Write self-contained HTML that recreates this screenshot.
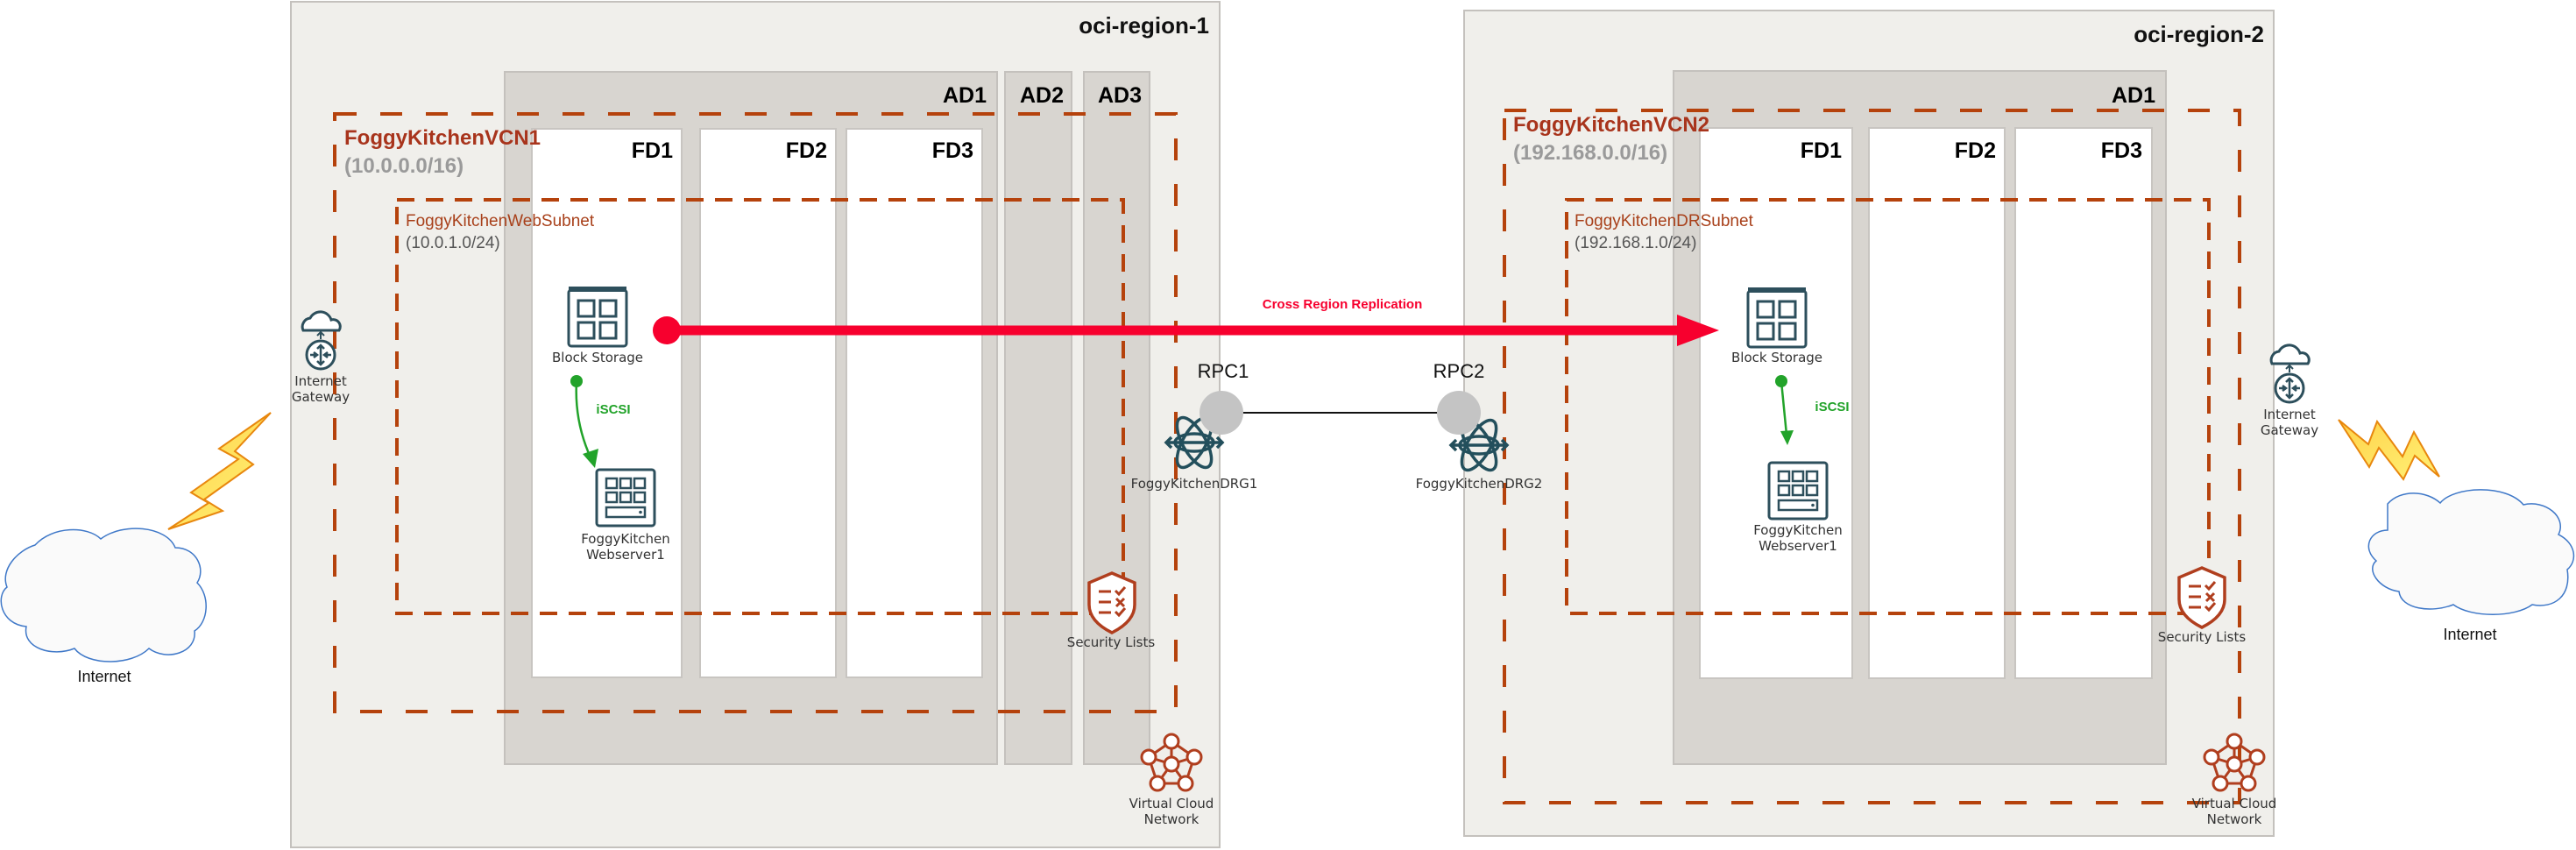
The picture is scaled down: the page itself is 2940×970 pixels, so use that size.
<!DOCTYPE html>
<html><head><meta charset="utf-8"><style>
html,body{margin:0;padding:0;background:#fff;}
svg{display:block;font-family:"Liberation Sans",sans-serif;}
.lbl{font-family:"DejaVu Sans","Liberation Sans",sans-serif;font-size:15px;fill:#333;text-anchor:middle;}
</style></head><body>
<svg width="2940" height="970" viewBox="0 0 2940 970" xmlns="http://www.w3.org/2000/svg">
<defs>
<g id="bs">
 <rect x="1" y="4" width="66" height="64" rx="3" fill="#fff" stroke="#2d4f5c" stroke-width="3"/>
 <rect x="1" y="0" width="66" height="6" fill="#2d4f5c"/>
 <rect x="12" y="16" width="18" height="18" fill="none" stroke="#2d4f5c" stroke-width="3"/>
 <rect x="37" y="16" width="18" height="18" fill="none" stroke="#2d4f5c" stroke-width="3"/>
 <rect x="12" y="41" width="18" height="18" fill="none" stroke="#2d4f5c" stroke-width="3"/>
 <rect x="37" y="41" width="18" height="18" fill="none" stroke="#2d4f5c" stroke-width="3"/>
</g>
<g id="ws">
 <rect x="1" y="1" width="66" height="64" rx="3" fill="#fff" stroke="#2d4f5c" stroke-width="3"/>
 <rect x="12" y="11" width="12" height="11" fill="none" stroke="#2d4f5c" stroke-width="2.5"/>
 <rect x="28" y="11" width="12" height="11" fill="none" stroke="#2d4f5c" stroke-width="2.5"/>
 <rect x="44" y="11" width="12" height="11" fill="none" stroke="#2d4f5c" stroke-width="2.5"/>
 <rect x="12" y="27" width="12" height="11" fill="none" stroke="#2d4f5c" stroke-width="2.5"/>
 <rect x="28" y="27" width="12" height="11" fill="none" stroke="#2d4f5c" stroke-width="2.5"/>
 <rect x="44" y="27" width="12" height="11" fill="none" stroke="#2d4f5c" stroke-width="2.5"/>
 <rect x="12" y="44" width="44" height="11" fill="none" stroke="#2d4f5c" stroke-width="2.5"/>
 <circle cx="51" cy="49.5" r="1.8" fill="#2d4f5c"/>
</g>
<g id="ig">
 <path d="M-20,-28 a10,10 0 0 1 8,-14 a13,13 0 0 1 24,2 a8,8 0 0 1 9,12 z" fill="#fff" stroke="#2d4f5c" stroke-width="3"/>
 <path d="M0,-28 v10 M-4,-22 l4,-4 4,4" fill="none" stroke="#2d4f5c" stroke-width="2"/>
 <circle cx="0" cy="0" r="16" fill="#fff" stroke="#2d4f5c" stroke-width="3"/>
 <path d="M0,-11 v22 M-4,-7 l4,-4 4,4 M-4,7 l4,4 4,-4 M-12,0 h8 M-8,-3 l4,3 -4,3 M12,0 h-8 M8,-3 l-4,3 4,3" fill="none" stroke="#2d4f5c" stroke-width="2.5"/>
</g>
<g id="drg" fill="none" stroke="#234f5c" stroke-width="3.5">
 <ellipse cx="0" cy="0" rx="13" ry="32" transform="rotate(30)"/>
 <ellipse cx="0" cy="0" rx="13" ry="32" transform="rotate(-30)"/>
 <ellipse cx="0" cy="0" rx="10" ry="22" transform="rotate(90)"/>
 <path d="M-32,0 h64 M-26,-6 l-6,6 6,6 M26,-6 l6,6 -6,6"/>
</g>
<g id="sl">
 <path d="M0,-34 L26,-23 V2 C26,18 12,28 0,34 C-12,28 -26,18 -26,2 V-23 Z" fill="#fff" stroke="#b03e1e" stroke-width="3.5"/>
 <path d="M-15,-13 h14 M-15,-1 h14 M-15,11 h14 M4,-14 l4,4 7,-8 M5,-5 l9,9 M14,-5 l-9,9 M4,10 l4,4 7,-8" fill="none" stroke="#b03e1e" stroke-width="3"/>
</g>
<g id="vcn" fill="#fff" stroke="#b03e1e" stroke-width="3">
 <path d="M0,-24 L-26,-6 -16,24 16,24 26,-6 Z M0,-24 V2 M-26,-6 L0,2 26,-6 M-16,24 L0,2 16,24" fill="none"/>
 <circle cx="0" cy="-24" r="8"/><circle cx="-26" cy="-6" r="8"/><circle cx="26" cy="-6" r="8"/>
 <circle cx="-16" cy="24" r="8"/><circle cx="16" cy="24" r="8"/><circle cx="0" cy="2" r="8"/>
</g>
<linearGradient id="lg" x1="0" y1="0" x2="1" y2="1"><stop offset="0" stop-color="#ffd24a"/><stop offset="1" stop-color="#fff176"/></linearGradient>
</defs>

<!-- Region 1 -->
<rect x="332" y="2" width="1060" height="965" fill="#f0efeb" stroke="#c4c1bd" stroke-width="2"/>
<text x="1380" y="38" font-size="26" font-weight="bold" text-anchor="end" fill="#111">oci-region-1</text>
<rect x="576" y="82" width="562" height="790" fill="#d8d5d0" stroke="#c4c1bd" stroke-width="2"/>
<rect x="1147" y="82" width="76" height="790" fill="#d8d5d0" stroke="#c4c1bd" stroke-width="2"/>
<rect x="1237" y="82" width="75" height="790" fill="#d8d5d0" stroke="#c4c1bd" stroke-width="2"/>
<text x="1126" y="117" font-size="25" font-weight="bold" text-anchor="end">AD1</text>
<text x="1189" y="117" font-size="25" font-weight="bold" text-anchor="middle">AD2</text>
<text x="1278" y="117" font-size="25" font-weight="bold" text-anchor="middle">AD3</text>
<rect x="607" y="147" width="171" height="626" fill="#fff" stroke="#c8c5c1" stroke-width="2"/>
<rect x="799" y="147" width="155" height="626" fill="#fff" stroke="#c8c5c1" stroke-width="2"/>
<rect x="966" y="147" width="155" height="626" fill="#fff" stroke="#c8c5c1" stroke-width="2"/>
<text x="768" y="180" font-size="25" font-weight="bold" text-anchor="end">FD1</text>
<text x="944" y="180" font-size="25" font-weight="bold" text-anchor="end">FD2</text>
<text x="1111" y="180" font-size="25" font-weight="bold" text-anchor="end">FD3</text>
<rect x="382" y="130" width="960" height="682" fill="none" stroke="#b5420c" stroke-width="4" stroke-dasharray="25 27"/>
<text x="393" y="165" font-size="24" font-weight="bold" fill="#a8341c">FoggyKitchenVCN1</text>
<text x="393" y="197" font-size="24" font-weight="bold" fill="#9a9a9a">(10.0.0.0/16)</text>
<rect x="453" y="228" width="829" height="472" fill="none" stroke="#b5420c" stroke-width="4" stroke-dasharray="20 13"/>
<text x="463" y="258" font-size="19" fill="#a8401a">FoggyKitchenWebSubnet</text>
<text x="463" y="283" font-size="19" fill="#555">(10.0.1.0/24)</text>
<use href="#bs" x="648" y="327"/>
<text class="lbl" x="682" y="413">Block Storage</text>
<path d="M658,435 C656,470 664,500 674,522" fill="none" stroke="#22a32a" stroke-width="2.5"/>
<path d="M665,518 L679,534 L683,512 Z" fill="#22a32a"/>
<circle cx="658" cy="435" r="7" fill="#22a32a"/>
<text x="700" y="472" font-size="15" font-weight="bold" fill="#22a32a" text-anchor="middle">iSCSI</text>
<use href="#ws" x="680" y="535"/>
<text class="lbl" x="714" y="620">FoggyKitchen</text>
<text class="lbl" x="714" y="638">Webserver1</text>
<use href="#ig" x="366" y="405"/>
<text class="lbl" x="366" y="440">Internet</text>
<text class="lbl" x="366" y="458">Gateway</text>
<use href="#sl" x="1269" y="688"/>
<text class="lbl" x="1268" y="738">Security Lists</text>
<use href="#vcn" x="1337" y="870"/>
<text class="lbl" x="1337" y="922">Virtual Cloud</text>
<text class="lbl" x="1337" y="940">Network</text>
<!-- left lightning + cloud -->
<path d="M309,471 L268,515 L289,530 L233,570 L254,583 L192,604 L238,574 L218,562 L272,524 L250,512 Z" fill="url(#lg)" stroke="#e8870e" stroke-width="2"/>
<path d="M40,622 C60,600 100,600 115,615 C140,596 190,600 200,625 C225,625 235,650 225,665 C240,680 238,710 222,720 C225,745 190,755 170,740 C150,760 100,760 85,740 C60,750 25,740 30,715 C0,712 -5,680 8,670 C0,650 20,628 40,622 Z" fill="#fafafa" stroke="#3f78c8" stroke-width="1.5"/>
<text x="119" y="778" font-size="18" text-anchor="middle" fill="#111">Internet</text>

<!-- Region 2 -->
<rect x="1671" y="12" width="924" height="942" fill="#f0efeb" stroke="#c4c1bd" stroke-width="2"/>
<text x="2584" y="48" font-size="26" font-weight="bold" text-anchor="end" fill="#111">oci-region-2</text>
<rect x="1910" y="81" width="562" height="791" fill="#d8d5d0" stroke="#c4c1bd" stroke-width="2"/>
<text x="2460" y="117" font-size="25" font-weight="bold" text-anchor="end">AD1</text>
<rect x="1940" y="146" width="174" height="628" fill="#fff" stroke="#c8c5c1" stroke-width="2"/>
<rect x="2133" y="146" width="155" height="628" fill="#fff" stroke="#c8c5c1" stroke-width="2"/>
<rect x="2300" y="146" width="156" height="628" fill="#fff" stroke="#c8c5c1" stroke-width="2"/>
<text x="2102" y="180" font-size="25" font-weight="bold" text-anchor="end">FD1</text>
<text x="2278" y="180" font-size="25" font-weight="bold" text-anchor="end">FD2</text>
<text x="2445" y="180" font-size="25" font-weight="bold" text-anchor="end">FD3</text>
<rect x="1717" y="126" width="839" height="790" fill="none" stroke="#b5420c" stroke-width="4" stroke-dasharray="25 27"/>
<text x="1727" y="150" font-size="24" font-weight="bold" fill="#a8341c">FoggyKitchenVCN2</text>
<text x="1727" y="182" font-size="24" font-weight="bold" fill="#9a9a9a">(192.168.0.0/16)</text>
<rect x="1788" y="228" width="733" height="472" fill="none" stroke="#b5420c" stroke-width="4" stroke-dasharray="20 13"/>
<text x="1797" y="258" font-size="19" fill="#a8401a">FoggyKitchenDRSubnet</text>
<text x="1797" y="283" font-size="19" fill="#555">(192.168.1.0/24)</text>
<use href="#bs" x="1994" y="328"/>
<text class="lbl" x="2028" y="413">Block Storage</text>
<path d="M2033,435 L2039,496" fill="none" stroke="#22a32a" stroke-width="2.5"/>
<path d="M2032,492 L2040,508 L2047,491 Z" fill="#22a32a"/>
<circle cx="2033" cy="435" r="7" fill="#22a32a"/>
<text x="2091" y="469" font-size="15" font-weight="bold" fill="#22a32a" text-anchor="middle">iSCSI</text>
<use href="#ws" x="2018" y="527"/>
<text class="lbl" x="2052" y="610">FoggyKitchen</text>
<text class="lbl" x="2052" y="628">Webserver1</text>
<use href="#sl" x="2513" y="682"/>
<text class="lbl" x="2513" y="732">Security Lists</text>
<use href="#vcn" x="2550" y="870"/>
<text class="lbl" x="2550" y="922">Virtual Cloud</text>
<text class="lbl" x="2550" y="940">Network</text>
<use href="#ig" x="2613" y="443"/>
<text class="lbl" x="2613" y="478">Internet</text>
<text class="lbl" x="2613" y="496">Gateway</text>
<path d="M2669,479 L2703,507 L2713,481 L2742,521 L2755,493 L2784,544 L2756,520 L2743,547 L2715,511 L2704,533 Z" fill="url(#lg)" stroke="#e8870e" stroke-width="2"/>
<path d="M2725,575 C2740,558 2770,560 2785,574 C2800,555 2860,552 2880,576 C2905,570 2930,590 2920,610 C2940,620 2942,640 2930,650 C2935,680 2915,695 2890,690 C2870,705 2820,705 2800,690 C2775,700 2740,695 2738,675 C2715,672 2700,650 2712,640 C2695,625 2705,605 2725,605 Z" fill="#fafafa" stroke="#3f78c8" stroke-width="1.5"/>
<text x="2819" y="730" font-size="18" text-anchor="middle" fill="#111">Internet</text>

<!-- RPC / DRG -->
<line x1="1394" y1="471" x2="1665" y2="471" stroke="#111" stroke-width="2"/>
<use href="#drg" x="1363" y="505"/>
<use href="#drg" x="1688" y="508"/>
<circle cx="1394" cy="471" r="25" fill="#c4c4c4"/>
<circle cx="1665" cy="471" r="25" fill="#c4c4c4"/>
<text x="1396" y="431" font-size="22" text-anchor="middle" fill="#111">RPC1</text>
<text x="1665" y="431" font-size="22" text-anchor="middle" fill="#111">RPC2</text>
<text class="lbl" x="1363" y="557">FoggyKitchenDRG1</text>
<text class="lbl" x="1688" y="557">FoggyKitchenDRG2</text>

<!-- replication arrow -->
<line x1="761" y1="377" x2="1916" y2="377" stroke="#f7002e" stroke-width="11"/>
<path d="M1914,359 L1962,377 L1914,395 Z" fill="#f7002e"/>
<circle cx="761" cy="377" r="16" fill="#f7002e"/>
<text x="1532" y="352" font-size="15" font-weight="bold" fill="#f7002e" text-anchor="middle">Cross Region Replication</text>
</svg>
</body></html>
